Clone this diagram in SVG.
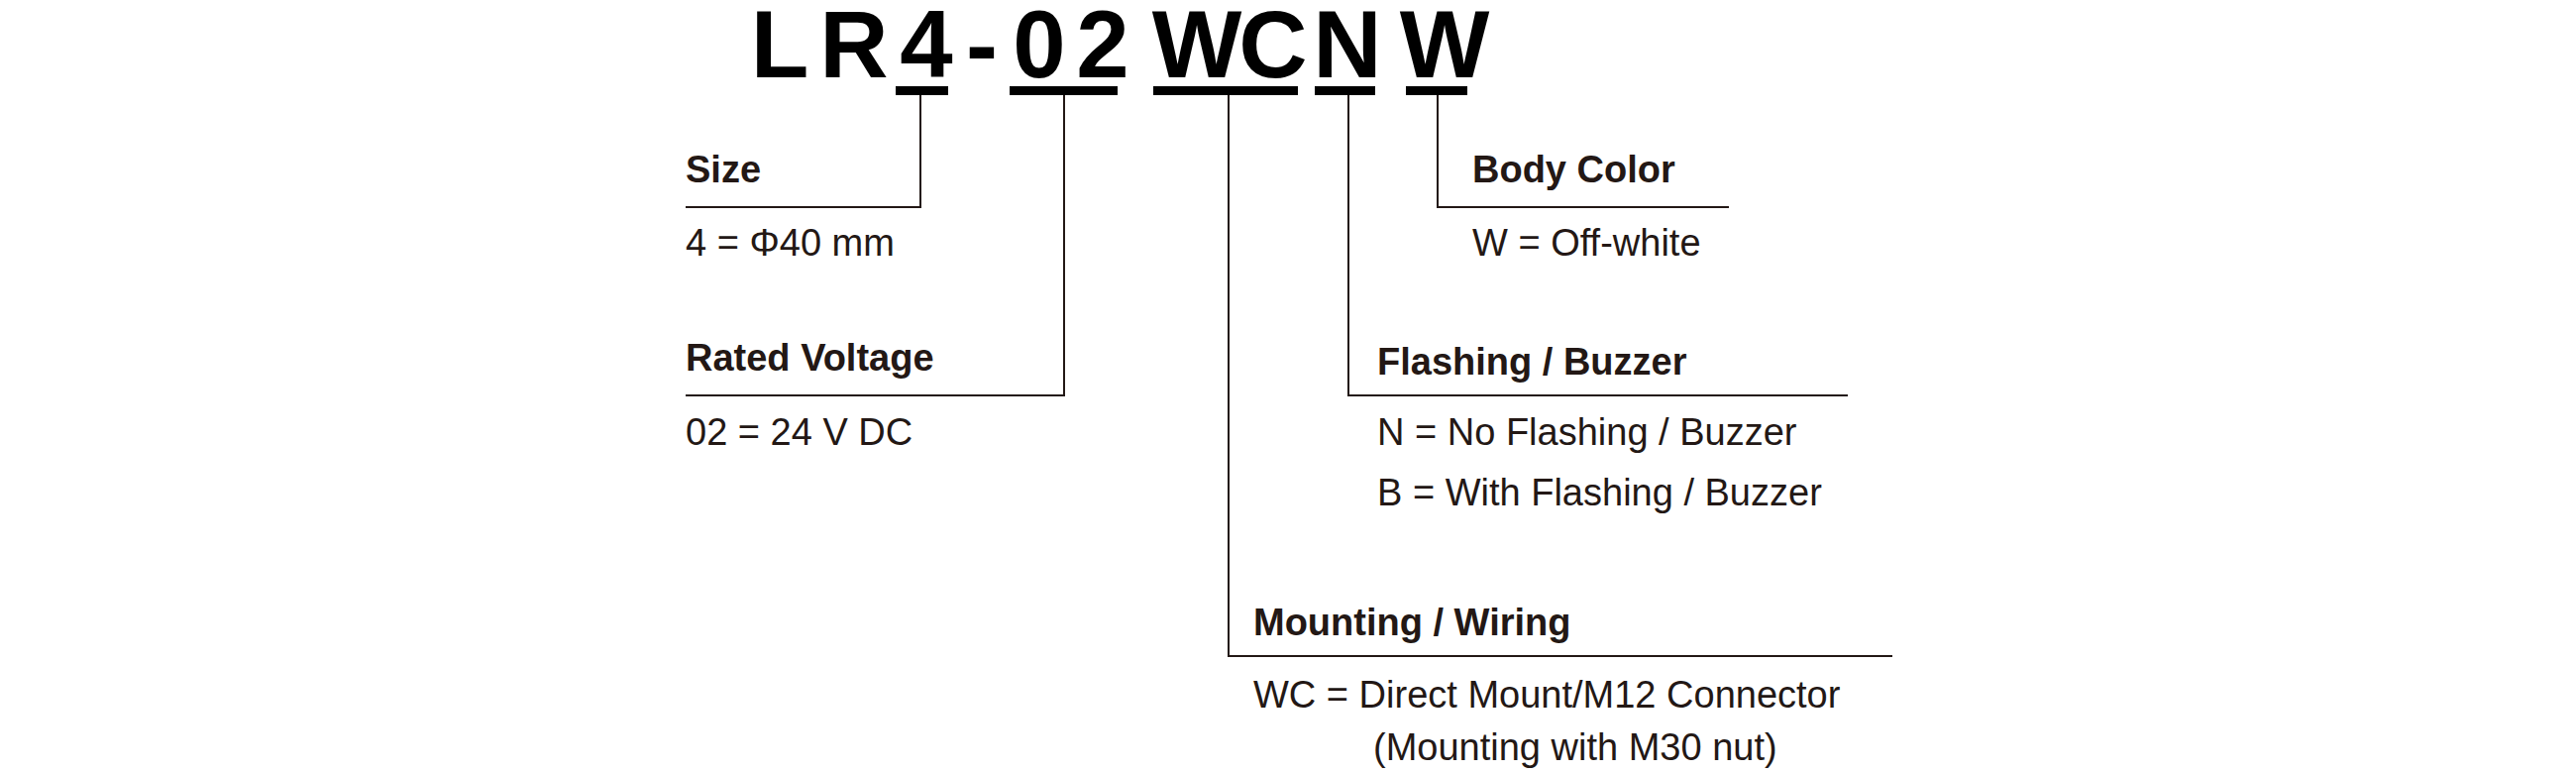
<svg xmlns="http://www.w3.org/2000/svg" width="2600" height="780" viewBox="0 0 2600 780">
<style>
.t{font-family:"Liberation Sans",Arial,sans-serif;fill:#231815}
.h{font-size:38px;font-weight:bold}
.v{font-size:38px}
.ttl{font-family:"Liberation Sans",Arial,sans-serif;font-size:96px;font-weight:bold;fill:#000;text-anchor:middle}
.ln{stroke:#231815;stroke-width:2;fill:none}
.bar{fill:#000}
</style>
<rect width="2600" height="780" fill="#fff"/>
<g id="title"><text class="ttl" y="78"><tspan x="787">L</tspan><tspan x="862">R</tspan><tspan x="935">4</tspan><tspan x="991">-</tspan><tspan x="1049">0</tspan><tspan x="1113">2</tspan><tspan x="1208">W</tspan><tspan x="1285">C</tspan><tspan x="1360">N</tspan><tspan x="1458">W</tspan></text>
<rect class="bar" x="904" y="87" width="53" height="9"/>
<rect class="bar" x="1019" y="87" width="109" height="9"/>
<rect class="bar" x="1164" y="87" width="146" height="9"/>
<rect class="bar" x="1327" y="87" width="61" height="9"/>
<rect class="bar" x="1419" y="87" width="62" height="9"/>
</g>
<g id="connectors">
<polyline class="ln" points="929,96 929,209 692,209"/>
<polyline class="ln" points="1074,96 1074,399 692,399"/>
<polyline class="ln" points="1240,96 1240,662 1910,662"/>
<polyline class="ln" points="1361,96 1361,399 1865,399"/>
<polyline class="ln" points="1451,96 1451,209 1745,209"/>
</g>
<g id="size"><text class="t h" x="692" y="184">Size</text><text class="t v" x="692" y="258">4 = Φ40 mm</text></g>
<g id="voltage"><text class="t h" x="692" y="374">Rated Voltage</text><text class="t v" x="692" y="449">02 = 24 V DC</text></g>
<g id="body"><text class="t h" x="1486" y="184">Body Color</text><text class="t v" x="1486" y="258">W = Off-white</text></g>
<g id="flash"><text class="t h" x="1390" y="378">Flashing / Buzzer</text><text class="t v" x="1390" y="449">N = No Flashing / Buzzer</text><text class="t v" x="1390" y="510">B = With Flashing / Buzzer</text></g>
<g id="mount"><text class="t h" x="1265" y="641">Mounting / Wiring</text><text class="t v" x="1265" y="714">WC = Direct Mount/M12 Connector</text><text class="t v" x="1386" y="767">(Mounting with M30 nut)</text></g>
</svg>
